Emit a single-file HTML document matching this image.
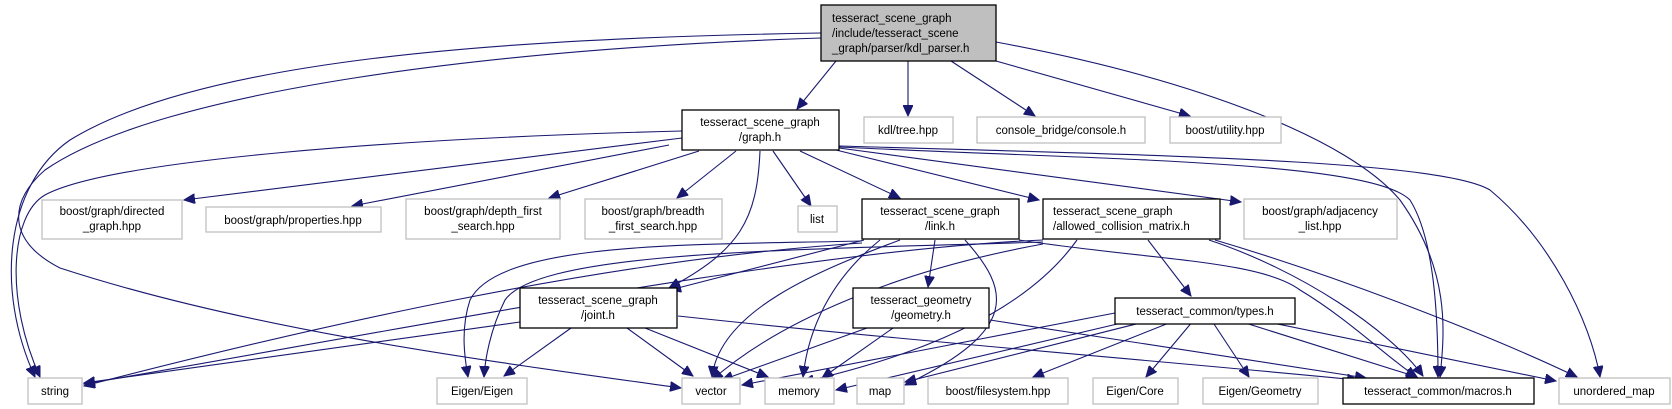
<!DOCTYPE html>
<html><head><meta charset="utf-8"><style>
html,body{margin:0;padding:0;background:#fff;}
svg{display:block;}
text{font-family:"Liberation Sans",Arial,sans-serif;font-size:11.5px;fill:#000;}
.g{fill:#fff;stroke:#bfbfbf;stroke-width:1.3;}
.b{fill:#fff;stroke:#000;stroke-width:1.3;}
.e{fill:none;stroke:#191970;stroke-width:1.1;}
</style></head><body>
<svg width="1672" height="409" viewBox="0 0 1672 409" xmlns="http://www.w3.org/2000/svg">
<defs><marker id="a" markerUnits="userSpaceOnUse" markerWidth="12" markerHeight="10" refX="11" refY="5" orient="auto"><path d="M0,0 L11,5 L0,10 z" fill="#191970" stroke="#191970"/></marker></defs>
<g class="e" marker-end="url(#a)">
<path d="M821,33 C500,38 200,60 70,140 C5,185 -5,290 35,377"/>
<path d="M821,38 C500,48 160,90 45,170 C10,200 5,240 60,268 C250,330 480,360 681,388"/>
<path d="M836,61 L797,109"/>
<path d="M908,61 L908,116"/>
<path d="M951,61 L1035,116"/>
<path d="M996,61 L1190,116"/>
<path d="M996,42 C1200,80 1350,140 1400,200 C1450,270 1445,330 1440,377"/>
<path d="M682,131 C400,138 110,160 45,195 C10,215 5,300 40,377"/>
<path d="M682,138 L184,200"/>
<path d="M669,145 L352,206"/>
<path d="M699,151 L549,198"/>
<path d="M736,151 L677,198"/>
<path d="M773,151 L811,206"/>
<path d="M760,151 C757,220 740,250 669,288"/>
<path d="M800,151 L900,198"/>
<path d="M836,150 L1039,200"/>
<path d="M839,148 L1241,202"/>
<path d="M839,147 C1100,160 1370,160 1410,200 C1435,240 1438,320 1438,377"/>
<path d="M839,146 C1150,155 1440,160 1490,190 C1550,240 1590,320 1600,377"/>
<path d="M862,243 C600,260 300,330 84,386"/>
<path d="M862,241 C700,245 500,240 470,300 C460,330 465,360 468,377"/>
<path d="M864,240 L670,290"/>
<path d="M900,240 C820,270 720,310 712,377"/>
<path d="M880,240 C830,280 808,330 803,377"/>
<path d="M935,240 L928,287"/>
<path d="M965,240 C1010,290 1020,330 905,385"/>
<path d="M1019,240 C1150,260 1260,260 1300,290 C1350,320 1390,360 1417,377"/>
<path d="M1043,240 C800,250 400,330 84,384"/>
<path d="M1043,242 C800,250 540,250 505,300 C490,330 485,360 484,377"/>
<path d="M1043,244 C900,270 780,320 712,380"/>
<path d="M1077,240 C1020,320 900,360 803,382"/>
<path d="M1148,240 L1191,296"/>
<path d="M1209,240 C1300,270 1390,330 1423,376"/>
<path d="M1215,240 C1350,280 1500,340 1577,377"/>
<path d="M520,322 L84,383"/>
<path d="M571,328 L504,376"/>
<path d="M627,328 L693,376"/>
<path d="M645,328 L768,377"/>
<path d="M678,316 C900,340 1150,360 1358,380"/>
<path d="M867,328 L722,380"/>
<path d="M893,328 L822,378"/>
<path d="M990,320 L1366,378"/>
<path d="M1115,313 L742,385"/>
<path d="M1130,321 L836,390"/>
<path d="M1148,321 L905,382"/>
<path d="M1174,321 L1033,377"/>
<path d="M1193,321 L1146,377"/>
<path d="M1212,321 L1249,377"/>
<path d="M1239,321 L1417,377"/>
<path d="M1263,321 L1556,381"/>
</g>
<rect x="821" y="5" width="175" height="56" fill="#bfbfbf" stroke="#000" stroke-width="1.3"/>
<text x="832" y="22">tesseract_scene_graph</text>
<text x="832" y="37">/include/tesseract_scene</text>
<text x="832" y="52">_graph/parser/kdl_parser.h</text>

<rect class="b" x="682" y="110" width="157" height="40"/>
<text x="760" y="126" text-anchor="middle">tesseract_scene_graph</text>
<text x="760" y="141" text-anchor="middle">/graph.h</text>

<rect class="g" x="864" y="117" width="89" height="26"/><text x="908" y="134" text-anchor="middle">kdl/tree.hpp</text>
<rect class="g" x="977" y="117" width="168" height="26"/><text x="1061" y="134" text-anchor="middle">console_bridge/console.h</text>
<rect class="g" x="1170" y="117" width="111" height="26"/><text x="1225" y="134" text-anchor="middle">boost/utility.hpp</text>

<rect class="g" x="42" y="200" width="140" height="39"/><text x="112" y="215" text-anchor="middle">boost/graph/directed</text><text x="112" y="230" text-anchor="middle">_graph.hpp</text>
<rect class="g" x="206" y="207" width="175" height="25"/><text x="293" y="224" text-anchor="middle">boost/graph/properties.hpp</text>
<rect class="g" x="406" y="199" width="154" height="40"/><text x="483" y="215" text-anchor="middle">boost/graph/depth_first</text><text x="483" y="230" text-anchor="middle">_search.hpp</text>
<rect class="g" x="585" y="199" width="137" height="40"/><text x="653" y="215" text-anchor="middle">boost/graph/breadth</text><text x="653" y="230" text-anchor="middle">_first_search.hpp</text>
<rect class="g" x="798" y="206" width="39" height="26"/><text x="817" y="223" text-anchor="middle">list</text>
<rect class="b" x="862" y="199" width="157" height="40"/><text x="940" y="215" text-anchor="middle">tesseract_scene_graph</text><text x="940" y="230" text-anchor="middle">/link.h</text>
<rect class="b" x="1043" y="199" width="177" height="40"/><text x="1053" y="215">tesseract_scene_graph</text><text x="1053" y="230">/allowed_collision_matrix.h</text>
<rect class="g" x="1244" y="199" width="153" height="40"/><text x="1320" y="215" text-anchor="middle">boost/graph/adjacency</text><text x="1320" y="230" text-anchor="middle">_list.hpp</text>

<rect class="b" x="520" y="288" width="157" height="40"/><text x="598" y="304" text-anchor="middle">tesseract_scene_graph</text><text x="598" y="319" text-anchor="middle">/joint.h</text>
<rect class="b" x="853" y="288" width="136" height="40"/><text x="921" y="304" text-anchor="middle">tesseract_geometry</text><text x="921" y="319" text-anchor="middle">/geometry.h</text>
<rect class="b" x="1115" y="298" width="180" height="26"/><text x="1205" y="315" text-anchor="middle">tesseract_common/types.h</text>

<rect class="g" x="28" y="378" width="54" height="26"/><text x="55" y="395" text-anchor="middle">string</text>
<rect class="g" x="437" y="378" width="90" height="26"/><text x="482" y="395" text-anchor="middle">Eigen/Eigen</text>
<rect class="g" x="682" y="378" width="58" height="26"/><text x="711" y="395" text-anchor="middle">vector</text>
<rect class="g" x="765" y="378" width="69" height="26"/><text x="799" y="395" text-anchor="middle">memory</text>
<rect class="g" x="857" y="378" width="47" height="26"/><text x="880" y="395" text-anchor="middle">map</text>
<rect class="g" x="928" y="378" width="140" height="26"/><text x="998" y="395" text-anchor="middle">boost/filesystem.hpp</text>
<rect class="g" x="1093" y="378" width="85" height="26"/><text x="1135" y="395" text-anchor="middle">Eigen/Core</text>
<rect class="g" x="1203" y="378" width="115" height="26"/><text x="1260" y="395" text-anchor="middle">Eigen/Geometry</text>
<rect class="b" x="1343" y="378" width="191" height="26"/><text x="1438" y="395" text-anchor="middle">tesseract_common/macros.h</text>
<rect class="g" x="1559" y="378" width="111" height="26"/><text x="1614" y="395" text-anchor="middle">unordered_map</text>
</svg>
</body></html>
